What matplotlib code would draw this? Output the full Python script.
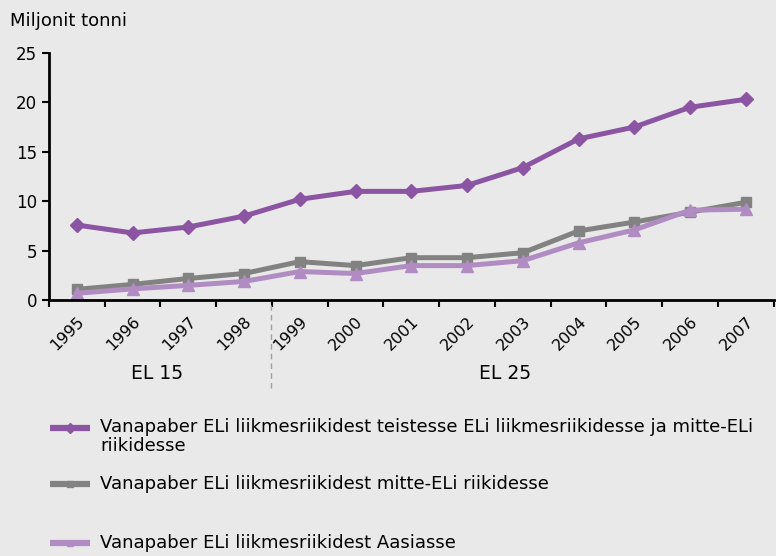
import numpy as np
import matplotlib
matplotlib.use("Agg")
import matplotlib.pyplot as plt
from matplotlib.lines import Line2D

# Data (million tonnes)
years = ["1995", "1996", "1997", "1998", "1999", "2000", "2001",
         "2002", "2003", "2004", "2005", "2006", "2007"]
eu_and_non_eu = [7.6, 6.8, 7.4, 8.5, 10.2, 11.0, 11.0, 11.6, 13.4, 16.3, 17.5, 19.5, 20.3]
non_eu = [1.1, 1.6, 2.2, 2.7, 3.9, 3.5, 4.3, 4.3, 4.8, 7.0, 7.9, 8.9, 9.9]
asia = [0.7, 1.15, 1.5, 1.9, 2.9, 2.7, 3.5, 3.5, 4.0, 5.8, 7.1, 9.1, 9.2]
labels = ["Vanapaber ELi liikmesriikidest teistesse ELi liikmesriikidesse ja mitte-ELi\nriikidesse",
          "Vanapaber ELi liikmesriikidest mitte-ELi riikidesse",
          "Vanapaber ELi liikmesriikidest Aasiasse"]

bg = "#e9e9e9"
c_purple = "#8c55a3"
c_gray = "#828282"
c_light = "#b08cc2"

plt.rcParams['font.family'] = ['DejaVu Sans']
fig = plt.figure(figsize=(7.76, 5.56), dpi=100, facecolor=bg)
ax = fig.add_axes([0.063, 0.46, 0.934, 0.445])
ax.set_facecolor(bg)

x = np.arange(len(years))
ax.plot(x, eu_and_non_eu, color=c_purple, lw=3.6, marker="D", ms=7)
ax.plot(x, non_eu, color=c_gray, lw=3.6, marker="s", ms=7.5)
ax.plot(x, asia, color=c_light, lw=3.6, marker="^", ms=8.5)

ax.set_xlim(-0.5, len(years) - 0.5)
ax.set_ylim(0, 25)
ax.set_yticks([0, 5, 10, 15, 20, 25])
ax.set_xticks(np.arange(-0.5, len(years)), [""] * (len(years) + 1))
ax.set_xticks(x, years, minor=True, rotation=45, ha="right", rotation_mode="anchor")
ax.tick_params(axis="x", which="major", length=5, width=1.5, direction="out")
ax.tick_params(axis="x", which="minor", length=0, pad=10, labelsize=11.5)
ax.tick_params(axis="y", length=5, width=1.5, labelsize=12)
for s in ["top", "right"]:
    ax.spines[s].set_visible(False)
for s in ["left", "bottom"]:
    ax.spines[s].set_linewidth(2)

fig.text(0.013, 0.963, "Miljonit tonni", fontsize=13, va="center", ha="left")

# EL 15 / EL 25 grouping
fig.add_artist(Line2D([0.349, 0.349], [0.302, 0.452], color="#a0a0a0", lw=1, ls=(0, (4, 3))))
fig.text(0.202, 0.329, "EL 15", fontsize=13.5, ha="center", va="center")
fig.text(0.651, 0.329, "EL 25", fontsize=13.5, ha="center", va="center")

# legend
colors = [c_purple, c_gray, c_light]
markers = ["D", "s", "^"]
ys = [1 - 428 / 556, 1 - 484 / 556, 1 - 543 / 556]
for lab, c, m, yy in zip(labels, colors, markers, ys):
    fig.add_artist(Line2D([0.064, 0.116], [yy, yy], color=c, lw=4.5, solid_capstyle="butt"))
    fig.add_artist(Line2D([0.09], [yy], color=c, marker=m, ms=5, lw=0))
    if "\n" in lab:
        fig.text(0.129, yy + 0.018, lab, fontsize=13, va="top", ha="left", linespacing=1.05)
    else:
        fig.text(0.129, yy, lab, fontsize=13, va="center", ha="left")

fig.savefig("out.png", dpi=100, facecolor=bg)
